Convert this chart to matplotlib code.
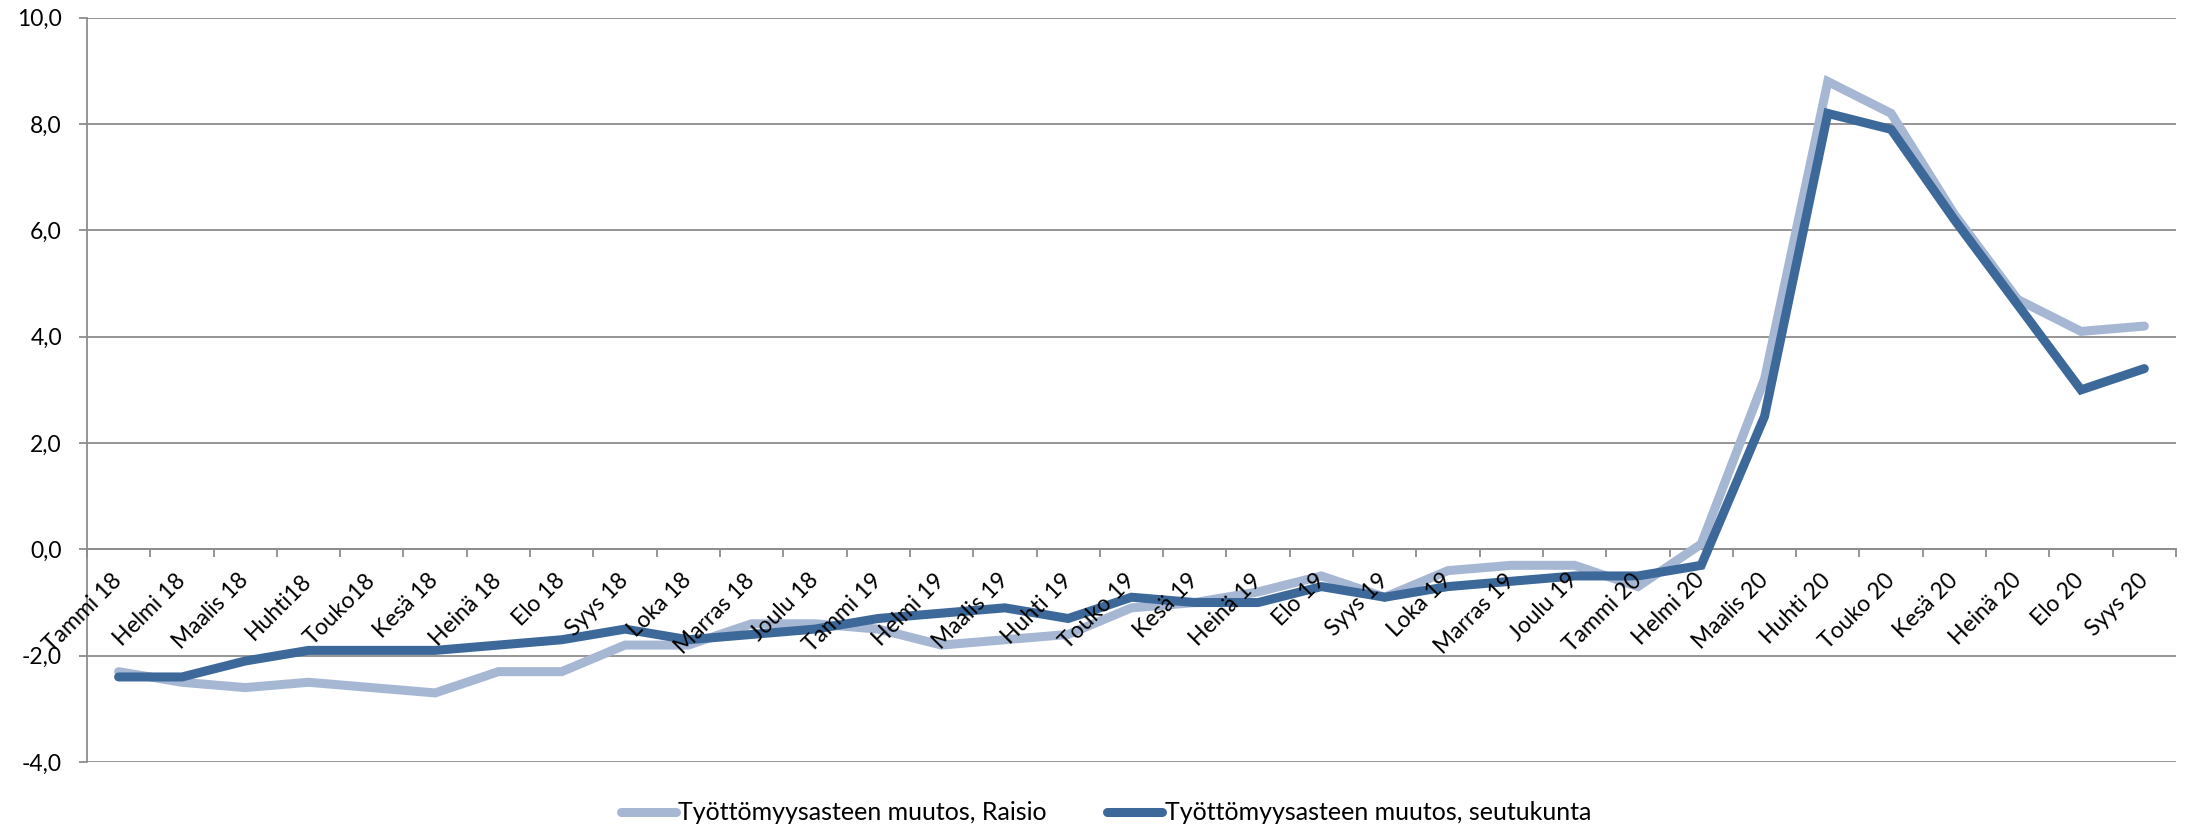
import numpy as np
import matplotlib
matplotlib.use("Agg")
import matplotlib.pyplot as plt
from matplotlib.ticker import FuncFormatter

months = ["Tammi 18", "Helmi 18", "Maalis 18", "Huhti18", "Touko18", "Kesä 18",
          "Heinä 18", "Elo 18", "Syys 18", "Loka 18", "Marras 18", "Joulu 18",
          "Tammi 19", "Helmi 19", "Maalis 19", "Huhti 19", "Touko 19", "Kesä 19",
          "Heinä 19", "Elo 19", "Syys 19", "Loka 19", "Marras 19", "Joulu 19",
          "Tammi 20", "Helmi 20", "Maalis 20", "Huhti 20", "Touko 20", "Kesä 20",
          "Heinä 20", "Elo 20", "Syys 20"]

raisio = [-2.3, -2.5, -2.6, -2.5, -2.6, -2.7, -2.3, -2.3, -1.8, -1.8, -1.4, -1.4,
          -1.5, -1.8, -1.7, -1.6, -1.1, -1.0, -0.8, -0.5, -0.9, -0.4, -0.3, -0.3,
          -0.7, 0.1, 3.2, 8.8, 8.2, 6.3, 4.7, 4.1, 4.2]

seutukunta = [-2.4, -2.4, -2.1, -1.9, -1.9, -1.9, -1.8, -1.7, -1.5, -1.7, -1.6, -1.5,
              -1.3, -1.2, -1.1, -1.3, -0.9, -1.0, -1.0, -0.7, -0.9, -0.7, -0.6, -0.5,
              -0.5, -0.3, 2.5, 8.2, 7.9, 6.2, 4.6, 3.0, 3.4]

legend_labels = ["Työttömyysasteen muutos, Raisio", "Työttömyysasteen muutos, seutukunta"]

plt.rcParams['font.family'] = ['Lato', 'DejaVu Sans']

fig = plt.figure(figsize=(21.9, 8.32), dpi=100)
ax = fig.add_axes([0.0397, 0.0841, 0.9539, 0.8946])

grid_color = '#8c8c8c'
x = np.arange(len(months))

ax.set_xlim(-0.5, len(months) - 0.5)
ax.set_ylim(-4, 10)
ax.set_yticks(np.arange(-4, 10.1, 2))
ax.yaxis.set_major_formatter(FuncFormatter(lambda v, p: f"{v:.1f}".replace('.', ',')))

# gridlines under the data, tick labels above it (like the Excel original)
ax.set_axisbelow(False)
for yv in ax.get_yticks():
    ax.axhline(yv, color=grid_color, linewidth=1.3, zorder=1)

ax.plot(x, raisio, color='#a6b7d4', linewidth=6.5, solid_capstyle='round',
        solid_joinstyle='miter', label=legend_labels[0], zorder=2)
ax.plot(x, seutukunta, color='#3c689a', linewidth=6.5, solid_capstyle='round',
        solid_joinstyle='miter', label=legend_labels[1], zorder=2.1)

# x axis crosses at zero, ticks between categories
ax.spines['bottom'].set_position(('data', 0))
ax.spines['bottom'].set_color(grid_color)
ax.spines['bottom'].set_linewidth(1.3)
ax.spines['bottom'].set_zorder(1)
ax.spines['left'].set_color(grid_color)
ax.spines['left'].set_linewidth(1.3)
ax.spines['top'].set_visible(False)
ax.spines['right'].set_visible(False)

ax.set_xticks(np.arange(-0.5, len(months), 1))
ax.set_xticklabels([])
ax.set_xticks(x, minor=True)
ax.set_xticklabels(months, minor=True, rotation=45, ha='right', va='center',
                   rotation_mode='anchor', fontsize=16.5)
ax.tick_params(axis='x', which='major', direction='out', length=6, width=1.3, color=grid_color)
ax.tick_params(axis='x', which='minor', length=0, pad=20)
ax.tick_params(axis='y', direction='out', length=6, width=1.3, color=grid_color,
               labelsize=16.5, pad=12)

fig.legend(loc='lower center', bbox_to_anchor=(0.505, -0.018), ncol=2, frameon=False,
           fontsize=18, handlelength=2.2, handletextpad=0.1, columnspacing=2.4)

fig.savefig("out.png", dpi=100)
